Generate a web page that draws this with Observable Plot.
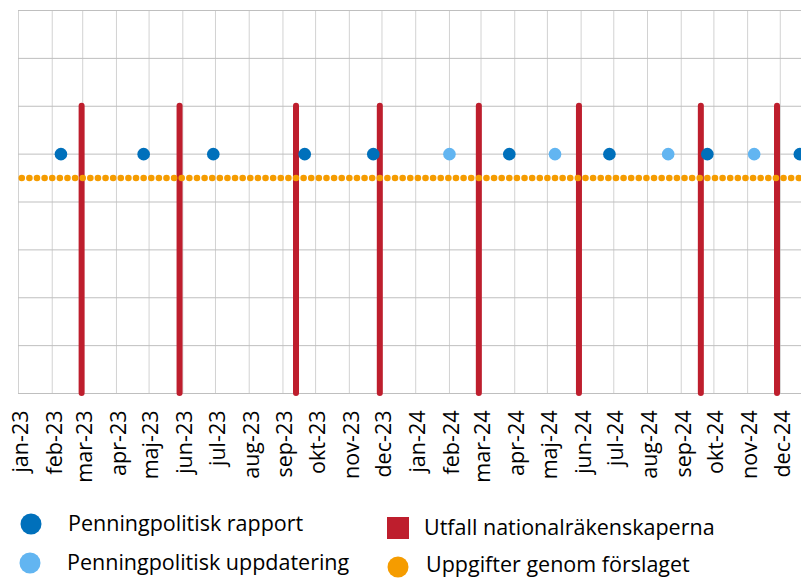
<!DOCTYPE html>
<html><head><meta charset="utf-8">
<script src="https://cdn.jsdelivr.net/npm/d3@7"></script>
<script src="https://cdn.jsdelivr.net/npm/@observablehq/plot@0.6"></script>
<style>
body{margin:0;background:#fff;overflow:hidden}
#wrap{position:relative;width:801px;height:578px;overflow:hidden;font-family:"Open Sans",sans-serif;color:#000}
#wrap svg{display:block}
</style></head><body><div id="wrap"></div>
<script>
// Penningpolitisk rapport (dark blue)
const rapportDates = ["2023-02-09","2023-04-26","2023-06-29","2023-09-21","2023-11-23","2024-03-27","2024-06-27","2024-09-25","2024-12-19"];
// Penningpolitisk uppdatering (light blue)
const uppdateringDates = ["2024-02-01","2024-05-08","2024-08-20","2024-11-07"];
// Utfall nationalräkenskaperna (red bars)
const utfallDates = ["2023-02-28","2023-05-29","2023-09-13","2023-11-29","2024-02-28","2024-05-30","2024-09-19","2024-11-28"];
// Uppgifter genom förslaget (orange, weekly, constant level)
const uppgifterStart = "2023-01-04";
const uppgifterEnd = "2025-01-01";
const uppgifterLevel = 4.5;
const pointLevel = 5;
const utfallHeight = 6;
const yGridValues = [0,1,2,3,4,5,6,7,8];
const monthLabels = ["jan-23","feb-23","mar-23","apr-23","maj-23","jun-23","jul-23","aug-23","sep-23","okt-23","nov-23","dec-23",
                     "jan-24","feb-24","mar-24","apr-24","maj-24","jun-24","jul-24","aug-24","sep-24","okt-24","nov-24","dec-24"];
const legendItems = [
  {label:"Penningpolitisk rapport", color:"#0070bb", shape:"circle"},
  {label:"Penningpolitisk uppdatering", color:"#62b5f1", shape:"circle"},
  {label:"Utfall nationalräkenskaperna", color:"#be1e2d", shape:"square"},
  {label:"Uppgifter genom förslaget", color:"#f59c00", shape:"circle"}
];

const parse = s => new Date(s + "T00:00:00Z");
const monthTicks = d3.utcMonth.range(parse("2023-01-01"), parse("2025-01-01"));
const labelOf = new Map(monthTicks.map((d, i) => [+d, monthLabels[i]]));
const rapport = rapportDates.map(d => ({date: parse(d), v: pointLevel}));
const uppd = uppdateringDates.map(d => ({date: parse(d), v: pointLevel}));
const utfall = utfallDates.map(d => ({date: parse(d), v: utfallHeight}));
const uppgifter = d3.utcWednesday.range(parse(uppgifterStart), parse(uppgifterEnd)).map(d => ({date: d, v: uppgifterLevel}));

const chart = Plot.plot({
  width: 801, height: 500,
  marginLeft: 18, marginRight: 0, marginTop: 10, marginBottom: 107,
  style: {fontFamily: '"Open Sans", sans-serif', fontSize: "21.5px", color: "#000", background: "#fff"},
  x: {type: "utc", domain: [parse("2023-01-01"), new Date(Date.UTC(2024, 11, 20, 12))]},
  y: {domain: [0, 8], axis: null},
  marks: [
    Plot.ruleX(monthTicks, {stroke: "#d2d2d2", strokeWidth: 1}),
    Plot.ruleY(yGridValues, {stroke: "#bfbfbf", strokeWidth: 1}),
    Plot.ruleX(utfall, {x: "date", y1: 0, y2: "v", stroke: "#be1e2d", strokeWidth: 6, strokeLinecap: "round"}),
    Plot.dot(uppgifter, {x: "date", y: "v", r: 3.3, fill: "#f59c00", stroke: "none"}),
    Plot.dot(uppd, {x: "date", y: "v", r: 6.3, fill: "#62b5f1", stroke: "none"}),
    Plot.dot(rapport, {x: "date", y: "v", r: 6.3, fill: "#0070bb", stroke: "none"}),
    Plot.axisX({ticks: monthTicks, tickFormat: d => labelOf.get(+d), tickRotate: -90, tickSize: 0, tickPadding: 17, fontSize: 21.5, dx: 2.5, label: null})
  ]
});
const wrap = document.getElementById("wrap");
wrap.appendChild(chart);

// legend
const lg = d3.select(wrap).append("svg").attr("width", 801).attr("height", 78)
  .style("font-family", '"Open Sans", sans-serif').style("font-size", "21.5px");
const pos = [
  {cx: 31, cy: 24, tx: 68, ty: 31},
  {cx: 30, cy: 63, tx: 67, ty: 70},
  {cx: 398, cy: 28, tx: 424, ty: 35},
  {cx: 398, cy: 67, tx: 426, ty: 72}
];
legendItems.forEach((it, i) => {
  const p = pos[i];
  if (it.shape === "circle") lg.append("circle").attr("cx", p.cx).attr("cy", p.cy).attr("r", 10.5).attr("fill", it.color);
  else lg.append("rect").attr("x", p.cx - 11).attr("y", p.cy - 11).attr("width", 22).attr("height", 22).attr("fill", it.color);
  lg.append("text").attr("x", p.tx).attr("y", p.ty).attr("fill", "#000").text(it.label);
});
</script></body></html>
